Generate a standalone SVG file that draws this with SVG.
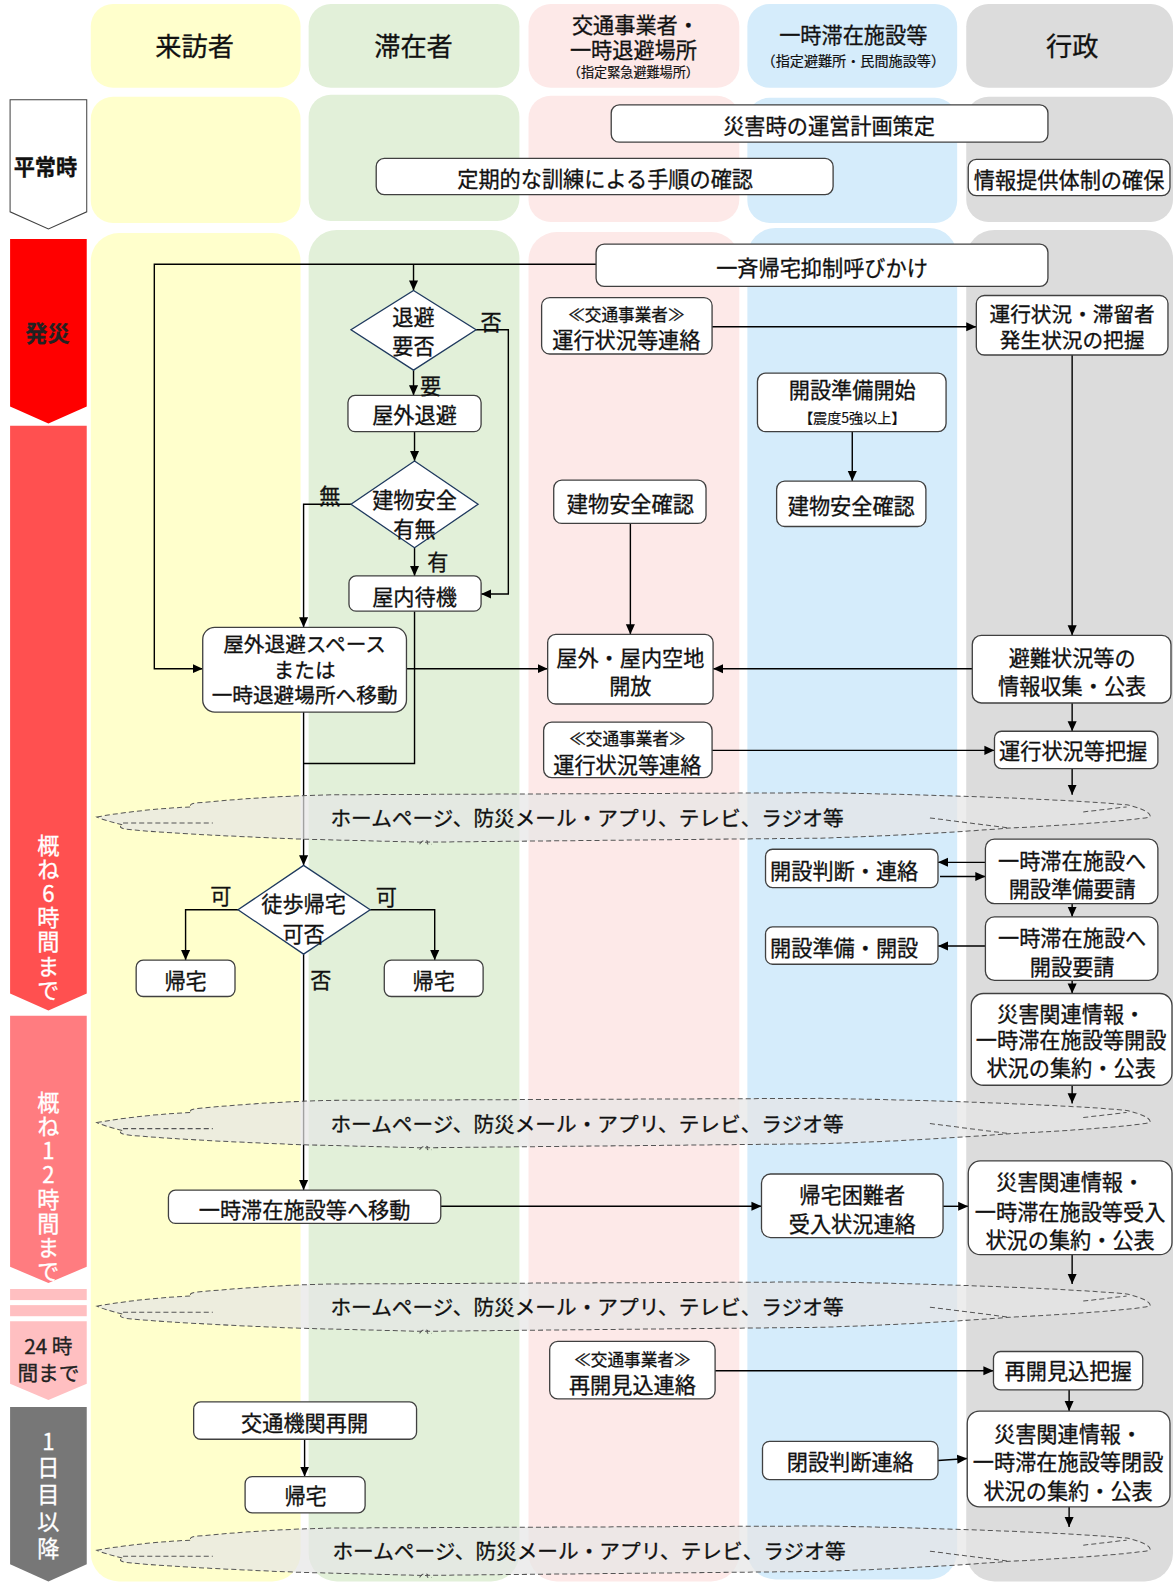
<svg xmlns="http://www.w3.org/2000/svg" xmlns:xlink="http://www.w3.org/1999/xlink" width="1173" height="1582" viewBox="0 0 1173 1582">
<style>
.ly{fill:#FFFFCC}.lg{fill:#E2F0D9}.lp{fill:#FDE9E8}.lb{fill:#D5ECFB}.lk{fill:#DCDCDC}
.box{fill:#fff;stroke:#404040;stroke-width:1.3}
.dia{fill:#fff;stroke:#1F3A5F;stroke-width:1.3}
text{font-family:"Noto Sans CJK JP","Noto Sans CJK SC",sans-serif;fill:#111;stroke:#111;stroke-width:0.3;text-anchor:middle;dominant-baseline:central}
.t{font-size:21px}.t2{font-size:20.5px}.th{font-size:26px}.s{font-size:16.5px}.xs{font-size:14px;stroke-width:0.2}.c{font-size:20.5px}
.v{font-size:22px;fill:#fff;stroke:#fff;writing-mode:vertical-rl;text-orientation:upright;text-anchor:start}
.conn path{fill:none;stroke:#000;stroke-width:1.4}
.arr{marker-end:url(#ah)}
.cl{fill:#E6E6E6;fill-opacity:0.7;stroke:#555;stroke-width:1;stroke-dasharray:5 3}
.cld{fill:none;stroke:#555;stroke-width:1;stroke-dasharray:5 3}
</style>
<defs>
<marker id="ah" viewBox="0 0 10 10" refX="10" refY="5" markerWidth="10" markerHeight="10" markerUnits="userSpaceOnUse" orient="auto"><path d="M0,0.5 L10,5 L0,9.5 z" fill="#000"/></marker>
<g id="cloud">
<path class="cl" d="M96,0 C130,-6 165,-9 190,-10 Q186,-13 196,-14 C240,-18 280,-21 330,-22 L813,-24 C950,-22 1080,-16 1117,-12 C1135,-8 1142,-3 1140,0 C1120,4 1060,8 1001,11 C950,15 880,19 813,21 L419,25 L300,22 C220,19 150,15 124,12 Q116,10 122,8 C110,5 100,2 96,0 Z"/>
<path class="cld" d="M122,6 L211,6 M922,1 L1001,11 M1074,-5 L1117,-10 M416,27 q3,-5 8,-3 q-2,4 4,3"/>
</g>
</defs>

<g transform="scale(1.0086)">
<!-- lanes -->
<g id="lanes">
<rect class="ly" x="90" y="4" width="208" height="83" rx="22"/>
<rect class="lg" x="306" y="4" width="209" height="83" rx="22"/>
<rect class="lp" x="524" y="4" width="209" height="83" rx="22"/>
<rect class="lb" x="741" y="4" width="208" height="83" rx="22"/>
<rect class="lk" x="958" y="4" width="205" height="83" rx="22"/>
<rect class="ly" x="90" y="96" width="208" height="125" rx="22"/>
<rect class="lg" x="306" y="94" width="209" height="125" rx="22"/>
<rect class="lp" x="524" y="95" width="209" height="125" rx="22"/>
<rect class="lb" x="741" y="97" width="208" height="124" rx="22"/>
<rect class="lk" x="958" y="96" width="205" height="124" rx="22"/>
<rect class="ly" x="90" y="231" width="208" height="1337" rx="28"/>
<rect class="lg" x="306" y="228" width="209" height="1340" rx="28"/>
<rect class="lp" x="524" y="230" width="209" height="1338" rx="28"/>
<rect class="lb" x="741" y="226" width="208" height="1340" rx="28"/>
<rect class="lk" x="958" y="228" width="205" height="1340" rx="28"/>
</g>

<g id="headers">
<text class="th" x="193" y="45">来訪者</text>
<text class="th" x="410" y="45">滞在者</text>
<text class="t" x="630" y="23">交通事業者・</text>
<text class="t" x="628" y="48">一時退避場所</text>
<text class="xs" x="628" y="71" style="font-size:13px">（指定緊急避難場所）</text>
<text class="t" x="846" y="33">一時滞在施設等</text>
<text class="xs" x="846" y="59">（指定避難所・民間施設等）</text>
<text class="th" x="1063" y="45">行政</text>
</g>

<!-- time axis -->
<g id="timeline">
<polygon points="10,99 86,99 86,210 48,227 10,210" fill="#fff" stroke="#404040" stroke-width="1"/>
<text x="45" y="164" style="font-size:21px;font-weight:bold">平常時</text>
<polygon points="10,237 86,237 86,403 48,420 10,403" fill="#FF0000"/>
<text x="47" y="329" style="font-size:22px;font-weight:bold;fill:#222;stroke:#222">発災</text>
<polygon points="10,422 86,422 86,985 48,1002 10,985" fill="#FF5050"/>
<text class="v" x="48" y="827" style="letter-spacing:2px">概ね6時間まで</text>
<polygon points="10,1007 86,1007 86,1256 48,1272 10,1256" fill="#FF7C80"/>
<text class="v" x="48" y="1082" style="letter-spacing:2px">概ね12時間まで</text>
<rect x="10" y="1278" width="76" height="11" fill="#FFBFC1"/>
<rect x="10" y="1294" width="76" height="11" fill="#FFBFC1"/>
<polygon points="10,1310 86,1310 86,1372 48,1388 10,1372" fill="#FFBFC1"/>
<text x="48" y="1334" style="font-size:20.5px;fill:#222;stroke:#222">24 時</text>
<text x="48" y="1360" style="font-size:20.5px;fill:#222;stroke:#222">間まで</text>
<polygon points="10,1395 86,1395 86,1551 48,1568 10,1551" fill="#777777"/>
<text class="v" x="48" y="1418" style="letter-spacing:4.5px">1日目以降</text>
</g>

<!-- connectors -->
<g id="connectors" class="conn">
<path class="arr" d="M591,262 H153 V663 H201"/>
<path class="arr" d="M410,262 V288"/>
<path class="arr" d="M472,327 H504 V589 H477"/>
<path class="arr" d="M410,367 V392"/>
<path class="arr" d="M411,428 V457"/>
<path class="arr" d="M348,500 H301 V622"/>
<path class="arr" d="M411,543 V571"/>
<path d="M411,606 V757 H301"/>
<path class="arr" d="M403,663 H543"/>
<path class="arr" d="M301,706 V858"/>
<path class="arr" d="M236,902 H184 V952"/>
<path class="arr" d="M367,902 H431 V952"/>
<path class="arr" d="M301,946 V1180"/>
<path class="arr" d="M437,1196 H755"/>
<path class="arr" d="M706,324 H968"/>
<path class="arr" d="M625,519 V629"/>
<path class="arr" d="M964,663 H707"/>
<path class="arr" d="M706,744 H986"/>
<path class="arr" d="M709,1359 H985"/>
<path class="arr" d="M845,428 V477"/>
<path class="arr" d="M977,855 H930"/>
<path class="arr" d="M932,869 H977"/>
<path class="arr" d="M977,938 H930"/>
<path class="arr" d="M935,1196 H960"/>
<path class="arr" d="M930,1448 L959,1446"/>
<path class="arr" d="M1063,352 V630"/>
<path class="arr" d="M1063,697 V725"/>
<path class="arr" d="M1063,762 V788"/>
<path class="arr" d="M1063,896 V909"/>
<path class="arr" d="M1063,972 V985"/>
<path class="arr" d="M1063,1076 V1094"/>
<path class="arr" d="M1063,1244 V1273"/>
<path class="arr" d="M1060,1378 V1399"/>
<path class="arr" d="M1060,1494 V1514"/>
<path class="arr" d="M302,1427 V1464"/>
</g>

<!-- row 2 nodes -->
<g id="n-keikaku"><rect class="box" x="606" y="104" width="433" height="37" rx="8"/><text class="t" x="822" y="123">災害時の運営計画策定</text></g>
<g id="n-kunren"><rect class="box" x="373" y="157" width="453" height="36" rx="8"/><text class="t" x="600" y="176">定期的な訓練による手順の確認</text></g>
<g id="n-johotaisei"><rect class="box" x="960" y="158" width="200" height="36" rx="8"/><text class="t" x="1060" y="177">情報提供体制の確保</text></g>

<!-- visitor / stayer -->
<g id="n-yokusei"><rect class="box" x="591" y="242" width="448" height="42" rx="8"/><text class="t" x="815" y="264">一斉帰宅抑制呼びかけ</text></g>
<g id="n-taihiyohi"><polygon class="dia" points="410,288 472,327 410,367 348,327"/><text class="t" x="410" y="313">退避</text><text class="t" x="410" y="342">要否</text></g>
<g id="n-okugaitaihi"><rect class="box" x="345" y="392" width="132" height="36" rx="7"/><text class="t" x="411" y="410">屋外退避</text></g>
<g id="n-anzen"><polygon class="dia" points="411,457 474,500 411,543 348,500"/><text class="t" x="411" y="494">建物安全</text><text class="t" x="411" y="523">有無</text></g>
<g id="n-okunai"><rect class="box" x="346" y="571" width="131" height="35" rx="7"/><text class="t" x="411" y="590">屋内待機</text></g>
<g id="n-idou"><rect class="box" x="201" y="622" width="202" height="84" rx="12"/><text class="t2" x="302" y="638">屋外退避スペース</text><text class="t2" x="302" y="663">または</text><text class="t2" x="302" y="688">一時退避場所へ移動</text></g>
<g id="n-toho"><polygon class="dia" points="301,858 367,902 301,946 236,902"/><text class="t" x="301" y="895">徒歩帰宅</text><text class="t" x="301" y="925">可否</text></g>
<g id="n-kitaku1"><rect class="box" x="135" y="952" width="98" height="36" rx="7"/><text class="t" x="184" y="971">帰宅</text></g>
<g id="n-kitaku2"><rect class="box" x="381" y="952" width="98" height="36" rx="7"/><text class="t" x="430" y="971">帰宅</text></g>
<g id="n-ichijiidou"><rect class="box" x="167" y="1180" width="270" height="33" rx="7"/><text class="t" x="302" y="1198">一時滞在施設等へ移動</text></g>
<g id="n-saikai"><rect class="box" x="192" y="1390" width="221" height="37" rx="7"/><text class="t" x="302" y="1409">交通機関再開</text></g>
<g id="n-kitaku3"><rect class="box" x="243" y="1464" width="119" height="36" rx="7"/><text class="t" x="303" y="1482">帰宅</text></g>

<!-- labels -->
<g id="labels">
<text class="t" x="487" y="318">否</text>
<text class="t" x="427" y="381">要</text>
<text class="t" x="327" y="490">無</text>
<text class="t" x="434" y="556">有</text>
<text class="t" x="219" y="887">可</text>
<text class="t" x="383" y="888">可</text>
<text class="t" x="318" y="970">否</text>
</g>

<!-- transport -->
<g id="n-renraku1"><rect class="box" x="537" y="295" width="169" height="56" rx="8"/><text class="s" x="621" y="311">≪交通事業者≫</text><text class="t" x="621" y="336">運行状況等連絡</text></g>
<g id="n-anzen3"><rect class="box" x="549" y="476" width="151" height="43" rx="8"/><text class="t" x="625" y="498">建物安全確認</text></g>
<g id="n-kaiho"><rect class="box" x="543" y="629" width="164" height="69" rx="8"/><text class="t" x="625" y="651">屋外・屋内空地</text><text class="t" x="625" y="679">開放</text></g>
<g id="n-renraku2"><rect class="box" x="539" y="716" width="167" height="55" rx="8"/><text class="s" x="622" y="732">≪交通事業者≫</text><text class="t" x="622" y="757">運行状況等連絡</text></g>
<g id="n-saikairenraku"><rect class="box" x="545" y="1330" width="164" height="57" rx="8"/><text class="s" x="627" y="1347">≪交通事業者≫</text><text class="t" x="627" y="1372">再開見込連絡</text></g>

<!-- facility -->
<g id="n-junbikaishi"><rect class="box" x="751" y="370" width="187" height="58" rx="8"/><text class="t" x="845" y="385">開設準備開始</text><text class="xs" x="845" y="413">【震度5強以上】</text></g>
<g id="n-anzen4"><rect class="box" x="770" y="477" width="148" height="45" rx="8"/><text class="t" x="844" y="500">建物安全確認</text></g>
<g id="n-handan"><rect class="box" x="759" y="842" width="171" height="38" rx="7"/><text class="t" x="837" y="862">開設判断・連絡</text></g>
<g id="n-kaisetsu"><rect class="box" x="759" y="919" width="171" height="37" rx="7"/><text class="t" x="837" y="938">開設準備・開設</text></g>
<g id="n-ukeire"><rect class="box" x="755" y="1164" width="180" height="63" rx="9"/><text class="t" x="845" y="1183">帰宅困難者</text><text class="t" x="845" y="1212">受入状況連絡</text></g>
<g id="n-heisetsu"><rect class="box" x="756" y="1429" width="174" height="38" rx="7"/><text class="t" x="843" y="1448">閉設判断連絡</text></g>

<!-- government -->
<g id="n-haaku1"><rect class="box" x="968" y="293" width="190" height="59" rx="8"/><text class="t2" x="1063" y="310">運行状況・滞留者</text><text class="t2" x="1063" y="336">発生状況の把握</text></g>
<g id="n-shushu"><rect class="box" x="964" y="630" width="197" height="67" rx="9"/><text class="t" x="1063" y="651">避難状況等の</text><text class="t" x="1063" y="679">情報収集・公表</text></g>
<g id="n-haaku2"><rect class="box" x="986" y="725" width="162" height="37" rx="7"/><text class="t" x="1064" y="743">運行状況等把握</text></g>
<g id="n-junbiyosei"><rect class="box" x="977" y="832" width="171" height="64" rx="9"/><text class="t" x="1063" y="852">一時滞在施設へ</text><text class="t" x="1063" y="880">開設準備要請</text></g>
<g id="n-kaisetsuyosei"><rect class="box" x="977" y="909" width="171" height="63" rx="9"/><text class="t" x="1063" y="929">一時滞在施設へ</text><text class="t" x="1063" y="957">開設要請</text></g>
<g id="n-shuyaku1"><rect class="box" x="963" y="985" width="199" height="91" rx="12"/><text class="t" x="1062" y="1004">災害関連情報・</text><text class="t" x="1062" y="1030">一時滞在施設等開設</text><text class="t" x="1062" y="1057">状況の集約・公表</text></g>
<g id="n-shuyaku2"><rect class="box" x="960" y="1151" width="202" height="93" rx="12"/><text class="t" x="1061" y="1170">災害関連情報・</text><text class="t" x="1061" y="1200">一時滞在施設等受入</text><text class="t" x="1061" y="1228">状況の集約・公表</text></g>
<g id="n-saikaihaaku"><rect class="box" x="985" y="1340" width="148" height="38" rx="7"/><text class="t" x="1059" y="1358">再開見込把握</text></g>
<g id="n-shuyaku3"><rect class="box" x="959" y="1399" width="201" height="95" rx="12"/><text class="t" x="1059" y="1420">災害関連情報・</text><text class="t" x="1059" y="1448">一時滞在施設等閉設</text><text class="t" x="1059" y="1477">状況の集約・公表</text></g>

<!-- clouds -->
<g id="cloud1"><use xlink:href="#cloud" href="#cloud" y="810"/><text class="c" x="582" y="810">ホームページ、防災メール・アプリ、テレビ、ラジオ等</text></g>
<g id="cloud2"><use xlink:href="#cloud" href="#cloud" y="1113"/><text class="c" x="582" y="1113">ホームページ、防災メール・アプリ、テレビ、ラジオ等</text></g>
<g id="cloud3"><use xlink:href="#cloud" href="#cloud" y="1295"/><text class="c" x="582" y="1295">ホームページ、防災メール・アプリ、テレビ、ラジオ等</text></g>
<g id="cloud4"><use xlink:href="#cloud" href="#cloud" y="1537"/><text class="c" x="584" y="1537">ホームページ、防災メール・アプリ、テレビ、ラジオ等</text></g>
</g>
</svg>
